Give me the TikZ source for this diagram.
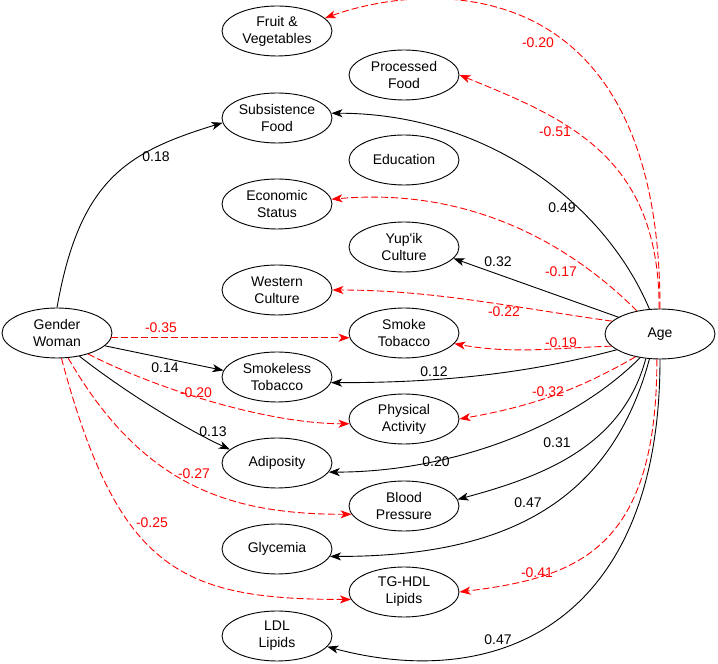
\documentclass[tikz,border=0pt]{standalone}
\usepackage{fontspec}
\setmainfont{Liberation Sans}
\usetikzlibrary{arrows.meta, shapes.geometric}

\begin{document}
\begin{tikzpicture}[x=1pt, y=1pt,
    var/.style={ellipse, draw=black, line width=0.9pt, minimum width=110pt, minimum height=50pt, inner sep=0pt, align=center, font=\fontsize{14}{17}\selectfont},
    eff/.style={draw=black, line width=0.9pt, -{Stealth[length=11pt, width=8pt, inset=3pt]}},
    negeff/.style={draw=red, line width=0.9pt, dash pattern=on 7pt off 3pt, -{Stealth[length=11pt, width=8pt, inset=3pt]}},
    wt/.style={font=\fontsize{14}{17}\selectfont, inner sep=0pt},
    negwt/.style={wt, text=red}]
    \useasboundingbox (0,0) rectangle (718,664);

    \node[var] (fruit) at (277,633) {Fruit \&\\Vegetables};
    \node[var] (proc) at (404,589) {Processed\\Food};
    \node[var] (subs) at (277,546) {Subsistence\\Food};
    \node[var] (edu) at (404,504) {Education};
    \node[var] (econ) at (277,460) {Economic\\Status};
    \node[var] (yupik) at (404,417) {Yup\textquotesingle ik\\Culture};
    \node[var] (west) at (277,374) {Western\\Culture};
    \node[var] (smoke) at (404,331) {Smoke\\Tobacco};
    \node[var] (gender) at (57,331) {Gender\\Woman};
    \node[var] (age) at (660,330) {Age};
    \node[var] (smokeless) at (277,287) {Smokeless\\Tobacco};
    \node[var] (phys) at (404,245) {Physical\\Activity};
    \node[var] (adip) at (277,201) {Adiposity};
    \node[var] (blood) at (404,158) {Blood\\Pressure};
    \node[var] (glyc) at (277,115) {Glycemia};
    \node[var] (tghdl) at (404,72) {TG-HDL\\Lipids};
    \node[var] (ldl) at (277,28) {LDL\\Lipids};

    % paths from age
    \draw[negeff] (age.north) to[out=90, in=20, out distance=350, in distance=100] (fruit.15);
    \draw[negeff] (age.92) to[out=90, in=-22, out distance=150, in distance=120] (proc.east);
    \draw[eff] (age.113) to[out=113, in=0, out distance=120, in distance=150] (subs.5);
    \draw[negeff] (age.135) to[out=135, in=5, out distance=80, in distance=150] (econ.5);
    \draw[eff] (age.158) -- (yupik.-13);
    \draw[negeff] (age.165) to[out=172, in=0, out distance=100, in distance=100] (west.east);
    \draw[negeff] (age.194) to[out=182, in=-10, out distance=60, in distance=60] (smoke.-12);
    \draw[eff] (age.200) to[out=195, in=0, out distance=100, in distance=100] (smokeless.-6);
    \draw[negeff] (age.223) to[out=210, in=10, out distance=70, in distance=70] (phys.east);
    \draw[eff] (age.230) to[out=225, in=0, out distance=100, in distance=120] (adip.-10);
    \draw[eff] (age.240) to[out=255, in=15, out distance=90, in distance=90] (blood.7);
    \draw[eff] (age.247) to[out=255, in=0, out distance=160, in distance=160] (glyc.-8);
    \draw[negeff] (age.263) to[out=270, in=7, out distance=190, in distance=120] (tghdl.east);
    \draw[eff] (age.south) to[out=270, in=-15, out distance=260, in distance=180] (ldl.-12);

    % paths from gender
    \draw[eff] (gender.north) to[out=80, in=197, out distance=130, in distance=100] (subs.185);
    \draw[negeff] (gender.-5) -- (smoke.185);
    \draw[eff] (gender.-15) -- (smokeless.173);
    \draw[negeff] (gender.-34) to[out=-27, in=180, out distance=80, in distance=80] (phys.185);
    \draw[eff] (gender.-46) to[out=-38, in=155, out distance=60, in distance=50] (adip.164);
    \draw[negeff] (gender.-66) to[out=-60, in=180, out distance=150, in distance=120] (blood.189);
    \draw[negeff] (gender.-80) to[out=-75, in=180, out distance=220, in distance=170] (tghdl.188);

    \node[negwt] (w-fruit) at (538,621) {-0.20};
    \node[negwt] (w-proc) at (555,532) {-0.51};
    \node[wt] (w-subs) at (562,456) {0.49};
    \node[negwt] (w-econ) at (561,392) {-0.17};
    \node[wt] (w-yupik) at (498,402) {0.32};
    \node[negwt] (w-west) at (504,352) {-0.22};
    \node[negwt] (w-smoke) at (561,321) {-0.19};
    \node[wt] (w-smokeless) at (434,292) {0.12};
    \node[negwt] (w-phys) at (548,272) {-0.32};
    \node[wt] (w-blood) at (557,221) {0.31};
    \node[wt] (w-adip) at (436,202) {0.20};
    \node[wt] (w-glyc) at (528,161) {0.47};
    \node[negwt] (w-tghdl) at (537,91) {-0.41};
    \node[wt] (w-ldl) at (498,24) {0.47};
    \node[wt] (g-subs) at (156,507) {0.18};
    \node[negwt] (g-smoke) at (161,336) {-0.35};
    \node[wt] (g-smokeless) at (165,296) {0.14};
    \node[negwt] (g-phys) at (196,271) {-0.20};
    \node[wt] (g-adip) at (213,232) {0.13};
    \node[negwt] (g-blood) at (194,190) {-0.27};
    \node[negwt] (g-tghdl) at (152,141) {-0.25};
\end{tikzpicture}
\end{document}
